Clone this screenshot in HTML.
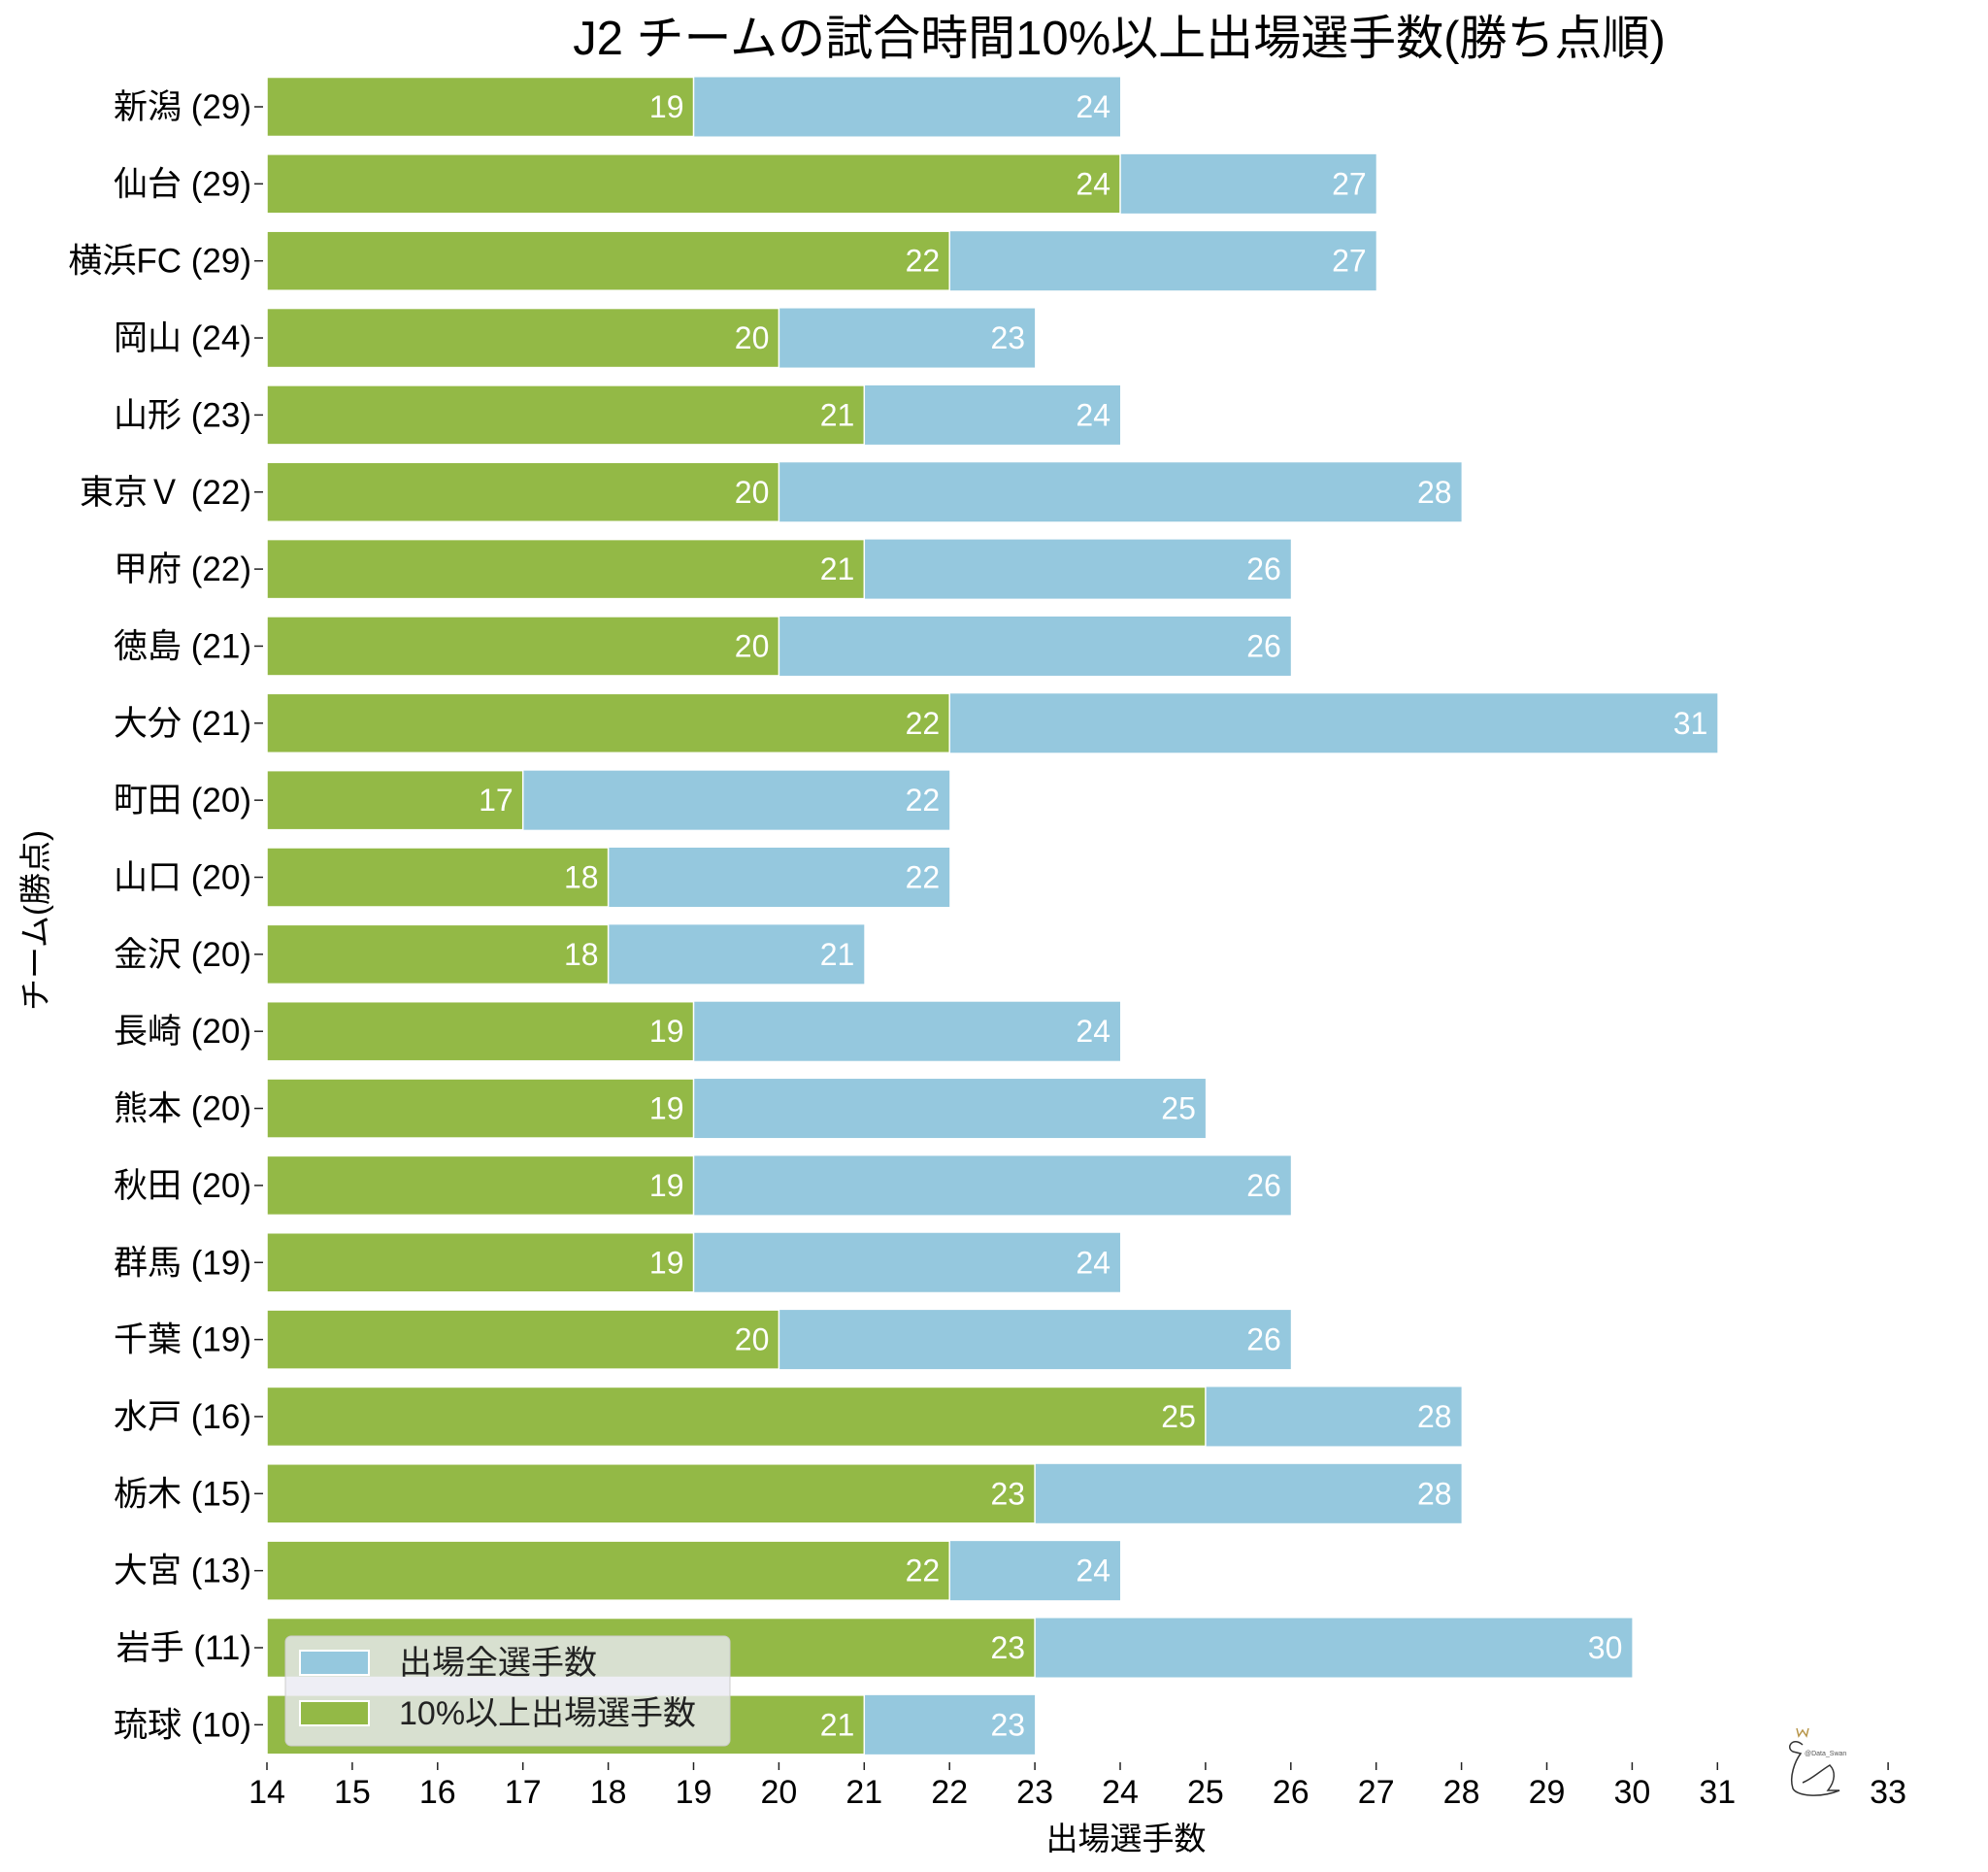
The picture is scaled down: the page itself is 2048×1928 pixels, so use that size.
<!DOCTYPE html>
<html><head><meta charset="utf-8"><style>
html,body{margin:0;padding:0;background:#fff;}
svg text{font-family:"Liberation Sans","Noto Sans CJK JP",sans-serif;}
.b{fill:#95c8de}.g{fill:#93b946;stroke:#fff;stroke-width:1.5}
.v{font-size:32px;fill:#fff;text-anchor:end}
.l{font-size:35px;fill:#000;text-anchor:end}
.t{stroke:#222;stroke-width:1.5}
.x{font-size:34px;fill:#000;text-anchor:middle}
</style></head><body>
<svg width="2048" height="1923" viewBox="0 0 2048 1923" xmlns="http://www.w3.org/2000/svg">
<rect width="2048" height="1923" fill="#fff"/>
<text x="1153" y="56" font-size="49" text-anchor="middle" fill="#000">J2 チームの試合時間10%以上出場選手数(勝ち点順)</text>

<g transform="translate(0,110)"><rect class="b" x="275" y="-30.5" width="879" height="61"/><rect class="g" x="275" y="-30.5" width="439.5" height="61"/><text class="v" x="704.5" y="11">19</text><text class="v" x="1144" y="11">24</text><line class="t" x1="262" x2="271" y1="0" y2="0"/><text class="l" x="259" y="12">新潟 (29)</text></g>
<g transform="translate(0,189.35)"><rect class="b" x="275" y="-30.5" width="1142.7" height="61"/><rect class="g" x="275" y="-30.5" width="879" height="61"/><text class="v" x="1144" y="11">24</text><text class="v" x="1407.7" y="11">27</text><line class="t" x1="262" x2="271" y1="0" y2="0"/><text class="l" x="259" y="12">仙台 (29)</text></g>
<g transform="translate(0,268.7)"><rect class="b" x="275" y="-30.5" width="1142.7" height="61"/><rect class="g" x="275" y="-30.5" width="703.2" height="61"/><text class="v" x="968.2" y="11">22</text><text class="v" x="1407.7" y="11">27</text><line class="t" x1="262" x2="271" y1="0" y2="0"/><text class="l" x="259" y="12">横浜FC (29)</text></g>
<g transform="translate(0,348.05)"><rect class="b" x="275" y="-30.5" width="791.1" height="61"/><rect class="g" x="275" y="-30.5" width="527.4" height="61"/><text class="v" x="792.4" y="11">20</text><text class="v" x="1056.1" y="11">23</text><line class="t" x1="262" x2="271" y1="0" y2="0"/><text class="l" x="259" y="12">岡山 (24)</text></g>
<g transform="translate(0,427.4)"><rect class="b" x="275" y="-30.5" width="879" height="61"/><rect class="g" x="275" y="-30.5" width="615.3" height="61"/><text class="v" x="880.3" y="11">21</text><text class="v" x="1144" y="11">24</text><line class="t" x1="262" x2="271" y1="0" y2="0"/><text class="l" x="259" y="12">山形 (23)</text></g>
<g transform="translate(0,506.75)"><rect class="b" x="275" y="-30.5" width="1230.6" height="61"/><rect class="g" x="275" y="-30.5" width="527.4" height="61"/><text class="v" x="792.4" y="11">20</text><text class="v" x="1495.6" y="11">28</text><line class="t" x1="262" x2="271" y1="0" y2="0"/><text class="l" x="259" y="12">東京Ｖ (22)</text></g>
<g transform="translate(0,586.1)"><rect class="b" x="275" y="-30.5" width="1054.8" height="61"/><rect class="g" x="275" y="-30.5" width="615.3" height="61"/><text class="v" x="880.3" y="11">21</text><text class="v" x="1319.8" y="11">26</text><line class="t" x1="262" x2="271" y1="0" y2="0"/><text class="l" x="259" y="12">甲府 (22)</text></g>
<g transform="translate(0,665.45)"><rect class="b" x="275" y="-30.5" width="1054.8" height="61"/><rect class="g" x="275" y="-30.5" width="527.4" height="61"/><text class="v" x="792.4" y="11">20</text><text class="v" x="1319.8" y="11">26</text><line class="t" x1="262" x2="271" y1="0" y2="0"/><text class="l" x="259" y="12">徳島 (21)</text></g>
<g transform="translate(0,744.8)"><rect class="b" x="275" y="-30.5" width="1494.3" height="61"/><rect class="g" x="275" y="-30.5" width="703.2" height="61"/><text class="v" x="968.2" y="11">22</text><text class="v" x="1759.3" y="11">31</text><line class="t" x1="262" x2="271" y1="0" y2="0"/><text class="l" x="259" y="12">大分 (21)</text></g>
<g transform="translate(0,824.15)"><rect class="b" x="275" y="-30.5" width="703.2" height="61"/><rect class="g" x="275" y="-30.5" width="263.7" height="61"/><text class="v" x="528.7" y="11">17</text><text class="v" x="968.2" y="11">22</text><line class="t" x1="262" x2="271" y1="0" y2="0"/><text class="l" x="259" y="12">町田 (20)</text></g>
<g transform="translate(0,903.5)"><rect class="b" x="275" y="-30.5" width="703.2" height="61"/><rect class="g" x="275" y="-30.5" width="351.6" height="61"/><text class="v" x="616.6" y="11">18</text><text class="v" x="968.2" y="11">22</text><line class="t" x1="262" x2="271" y1="0" y2="0"/><text class="l" x="259" y="12">山口 (20)</text></g>
<g transform="translate(0,982.85)"><rect class="b" x="275" y="-30.5" width="615.3" height="61"/><rect class="g" x="275" y="-30.5" width="351.6" height="61"/><text class="v" x="616.6" y="11">18</text><text class="v" x="880.3" y="11">21</text><line class="t" x1="262" x2="271" y1="0" y2="0"/><text class="l" x="259" y="12">金沢 (20)</text></g>
<g transform="translate(0,1062.2)"><rect class="b" x="275" y="-30.5" width="879" height="61"/><rect class="g" x="275" y="-30.5" width="439.5" height="61"/><text class="v" x="704.5" y="11">19</text><text class="v" x="1144" y="11">24</text><line class="t" x1="262" x2="271" y1="0" y2="0"/><text class="l" x="259" y="12">長崎 (20)</text></g>
<g transform="translate(0,1141.55)"><rect class="b" x="275" y="-30.5" width="966.9" height="61"/><rect class="g" x="275" y="-30.5" width="439.5" height="61"/><text class="v" x="704.5" y="11">19</text><text class="v" x="1231.9" y="11">25</text><line class="t" x1="262" x2="271" y1="0" y2="0"/><text class="l" x="259" y="12">熊本 (20)</text></g>
<g transform="translate(0,1220.9)"><rect class="b" x="275" y="-30.5" width="1054.8" height="61"/><rect class="g" x="275" y="-30.5" width="439.5" height="61"/><text class="v" x="704.5" y="11">19</text><text class="v" x="1319.8" y="11">26</text><line class="t" x1="262" x2="271" y1="0" y2="0"/><text class="l" x="259" y="12">秋田 (20)</text></g>
<g transform="translate(0,1300.25)"><rect class="b" x="275" y="-30.5" width="879" height="61"/><rect class="g" x="275" y="-30.5" width="439.5" height="61"/><text class="v" x="704.5" y="11">19</text><text class="v" x="1144" y="11">24</text><line class="t" x1="262" x2="271" y1="0" y2="0"/><text class="l" x="259" y="12">群馬 (19)</text></g>
<g transform="translate(0,1379.6)"><rect class="b" x="275" y="-30.5" width="1054.8" height="61"/><rect class="g" x="275" y="-30.5" width="527.4" height="61"/><text class="v" x="792.4" y="11">20</text><text class="v" x="1319.8" y="11">26</text><line class="t" x1="262" x2="271" y1="0" y2="0"/><text class="l" x="259" y="12">千葉 (19)</text></g>
<g transform="translate(0,1458.95)"><rect class="b" x="275" y="-30.5" width="1230.6" height="61"/><rect class="g" x="275" y="-30.5" width="966.9" height="61"/><text class="v" x="1231.9" y="11">25</text><text class="v" x="1495.6" y="11">28</text><line class="t" x1="262" x2="271" y1="0" y2="0"/><text class="l" x="259" y="12">水戸 (16)</text></g>
<g transform="translate(0,1538.3)"><rect class="b" x="275" y="-30.5" width="1230.6" height="61"/><rect class="g" x="275" y="-30.5" width="791.1" height="61"/><text class="v" x="1056.1" y="11">23</text><text class="v" x="1495.6" y="11">28</text><line class="t" x1="262" x2="271" y1="0" y2="0"/><text class="l" x="259" y="12">栃木 (15)</text></g>
<g transform="translate(0,1617.65)"><rect class="b" x="275" y="-30.5" width="879" height="61"/><rect class="g" x="275" y="-30.5" width="703.2" height="61"/><text class="v" x="968.2" y="11">22</text><text class="v" x="1144" y="11">24</text><line class="t" x1="262" x2="271" y1="0" y2="0"/><text class="l" x="259" y="12">大宮 (13)</text></g>
<g transform="translate(0,1697)"><rect class="b" x="275" y="-30.5" width="1406.4" height="61"/><rect class="g" x="275" y="-30.5" width="791.1" height="61"/><text class="v" x="1056.1" y="11">23</text><text class="v" x="1671.4" y="11">30</text><line class="t" x1="262" x2="271" y1="0" y2="0"/><text class="l" x="259" y="12">岩手 (11)</text></g>
<g transform="translate(0,1776.35)"><rect class="b" x="275" y="-30.5" width="791.1" height="61"/><rect class="g" x="275" y="-30.5" width="615.3" height="61"/><text class="v" x="880.3" y="11">21</text><text class="v" x="1056.1" y="11">23</text><line class="t" x1="262" x2="271" y1="0" y2="0"/><text class="l" x="259" y="12">琉球 (10)</text></g>

<g>
<line class="t" x1="275" x2="275" y1="1815" y2="1823"/><text class="x" x="275" y="1857">14</text>
<line class="t" x1="362.9" x2="362.9" y1="1815" y2="1823"/><text class="x" x="362.9" y="1857">15</text>
<line class="t" x1="450.8" x2="450.8" y1="1815" y2="1823"/><text class="x" x="450.8" y="1857">16</text>
<line class="t" x1="538.7" x2="538.7" y1="1815" y2="1823"/><text class="x" x="538.7" y="1857">17</text>
<line class="t" x1="626.6" x2="626.6" y1="1815" y2="1823"/><text class="x" x="626.6" y="1857">18</text>
<line class="t" x1="714.5" x2="714.5" y1="1815" y2="1823"/><text class="x" x="714.5" y="1857">19</text>
<line class="t" x1="802.4" x2="802.4" y1="1815" y2="1823"/><text class="x" x="802.4" y="1857">20</text>
<line class="t" x1="890.3" x2="890.3" y1="1815" y2="1823"/><text class="x" x="890.3" y="1857">21</text>
<line class="t" x1="978.2" x2="978.2" y1="1815" y2="1823"/><text class="x" x="978.2" y="1857">22</text>
<line class="t" x1="1066.1" x2="1066.1" y1="1815" y2="1823"/><text class="x" x="1066.1" y="1857">23</text>
<line class="t" x1="1154" x2="1154" y1="1815" y2="1823"/><text class="x" x="1154" y="1857">24</text>
<line class="t" x1="1241.9" x2="1241.9" y1="1815" y2="1823"/><text class="x" x="1241.9" y="1857">25</text>
<line class="t" x1="1329.8" x2="1329.8" y1="1815" y2="1823"/><text class="x" x="1329.8" y="1857">26</text>
<line class="t" x1="1417.7" x2="1417.7" y1="1815" y2="1823"/><text class="x" x="1417.7" y="1857">27</text>
<line class="t" x1="1505.6" x2="1505.6" y1="1815" y2="1823"/><text class="x" x="1505.6" y="1857">28</text>
<line class="t" x1="1593.5" x2="1593.5" y1="1815" y2="1823"/><text class="x" x="1593.5" y="1857">29</text>
<line class="t" x1="1681.4" x2="1681.4" y1="1815" y2="1823"/><text class="x" x="1681.4" y="1857">30</text>
<line class="t" x1="1769.3" x2="1769.3" y1="1815" y2="1823"/><text class="x" x="1769.3" y="1857">31</text>
<line class="t" x1="1945.1" x2="1945.1" y1="1815" y2="1823"/><text class="x" x="1945.1" y="1857">33</text>
</g>

<text x="1160" y="1905" font-size="33" text-anchor="middle" fill="#000">出場選手数</text>
<text transform="translate(48,948) rotate(-90)" font-size="33" text-anchor="middle" fill="#000">チーム(勝点)</text>

<g transform="translate(1845,1800)" fill="none" stroke="#333" stroke-width="1.5">
<path d="M12,-3 C2,-12 -6,0 2,4 L10,6 C4,14 -2,30 2,42 C6,50 30,52 50,44 L38,44 C46,34 46,24 40,18 C30,24 22,32 12,36"/>
<path d="M6,-20 L8,-12 L12,-18 L16,-12 L18,-20" stroke="#b8964a"/>
<text x="14" y="8" font-size="7" fill="#555" stroke="none">@Data_Swan</text>
</g>

<rect x="294" y="1685" width="458" height="113" rx="6" fill="rgb(234,234,242)" fill-opacity="0.8" stroke="#ccc" stroke-width="1"/>
<rect x="309" y="1700" width="71" height="25" fill="#95c8de" stroke="#fff" stroke-width="2"/>
<rect x="309" y="1752" width="71" height="25" fill="#93b946" stroke="#fff" stroke-width="2"/>
<text x="411" y="1724" font-size="34" fill="#222">出場全選手数</text>
<text x="411" y="1776" font-size="34" fill="#222">10%以上出場選手数</text>
</svg>
</body></html>
